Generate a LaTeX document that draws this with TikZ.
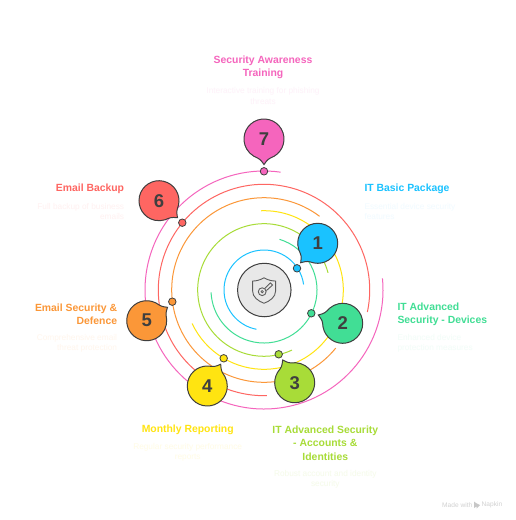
\documentclass[tikz,border=0pt]{standalone}
\usepackage{fontspec}
\setmainfont{Liberation Sans}
\usetikzlibrary{calc}
\definecolor{cblue}{HTML}{1AC2FF}
\definecolor{cgreen}{HTML}{41DE95}
\definecolor{clime}{HTML}{A8DC38}
\definecolor{cyellow}{HTML}{FFE411}
\definecolor{corange}{HTML}{FB9738}
\definecolor{cred}{HTML}{FE6662}
\definecolor{cpink}{HTML}{F565BD}
\definecolor{dark}{HTML}{3F3F3F}
\tikzset{
  ring/.style={line width=1pt},
  dot/.style={circle,draw=dark,line width=0.8pt,minimum size=7.5pt,inner sep=0pt},
  bubbleline/.style={draw=dark,line width=1pt},
  num/.style={font=\fontsize{18.5}{20}\selectfont\bfseries,text=dark,inner sep=0pt},
  ttl/.style={font=\fontsize{10.4}{13.3}\selectfont\bfseries,inner sep=0pt},
  dsc/.style={font=\fontsize{8.3}{10.3}\selectfont,inner sep=0pt},
}
% name, cx, cy, tipx, tipy, colour, number
\newcommand{\bubblemark}[7]{%
  \pgfmathsetmacro{\th}{atan2(#5-#3,#4-#2)}%
  \pgfmathsetmacro{\thA}{\th+30}\pgfmathsetmacro{\thB}{\th+330}%
  \pgfmathsetmacro{\thC}{\th-11}\pgfmathsetmacro{\thD}{\th+11}%
  \fill[#6] (#2,#3) circle (20pt);
  \path[bubbleline,fill=#6] ($(#2,#3)+(\thA:20pt)$) arc[start angle=\thA,end angle=\thB,radius=20pt]
    .. controls ($(#2,#3)+(\thC:20.5pt)$) .. (#4,#5)
    .. controls ($(#2,#3)+(\thD:20.5pt)$) .. cycle;
  \node[num] (#1) at (#2,#3) {#7};
}
\begin{document}
\begin{tikzpicture}[x=1pt,y=1pt]
\useasboundingbox (0,0) rectangle (515,-520);
\fill[white] (0,0) rectangle (515,-520);
\coordinate (c) at (264,-290);
% rings: radius, start, end, colour
\foreach \r/\s/\e/\col in {40/8/259/cblue,53/73/-177.5/cgreen,66.3/15/295/clime,79.3/92/-155/cyellow,92.3/53/321/corange,105.7/-12/271.5/cred,119/5.6/-278/cpink}{
  \draw[ring,\col] ($(c)+(\s:\r pt)$) arc[start angle=\s,end angle=\e,radius=\r pt];
}
% hub
\node[circle,draw=dark,line width=1pt,fill=black!9,minimum size=53.5pt,inner sep=0pt] (hub) at (264.3,-290) {};
\draw[dark!85,line width=0.9pt,line join=round] (264,-277.8) .. controls (259,-280.6) and (255.5,-281) .. (252.6,-281)
  -- (252.6,-291) .. controls (252.6,-297) and (258,-301) .. (264,-303.3)
  .. controls (270,-301) and (275.6,-297) .. (275.6,-291) -- (275.6,-281)
  .. controls (272.5,-281) and (269,-280.6) .. (264,-277.8) -- cycle;
\draw[dark!85,line width=0.9pt] (262.2,-291.7) circle (3.9pt);
\draw[dark!85,line width=0.7pt] (262.2,-291.7) circle (1.2pt);
\draw[dark!85,line width=0.9pt,line join=round] (264.6,-288.6) -- (270.4,-282.8) -- (272.6,-285) -- (266.4,-290.6);
% bubbles
\bubblemark{n7}{264}{-139}{264}{-164.5}{cpink}{7}
\bubblemark{n6}{159}{-200.7}{177.5}{-217.7}{cred}{6}
\bubblemark{n5}{146.7}{-320.7}{167.5}{-307.3}{corange}{5}
\bubblemark{n4}{207.3}{-386}{220.7}{-364.3}{cyellow}{4}
\bubblemark{n3}{294.7}{-382.7}{282.7}{-360}{clime}{3}
\bubblemark{n2}{342.7}{-323.3}{318.3}{-315}{cgreen}{2}
\bubblemark{n1}{317.7}{-243.3}{300.7}{-262.7}{cblue}{1}
% dots
\node[dot,fill=cblue] (d1) at (297,-268.3) {};
\node[dot,fill=cgreen] (d2) at (311.3,-313.3) {};
\node[dot,fill=clime] (d3) at (278.7,-354.3) {};
\node[dot,fill=cyellow] (d4) at (223.7,-358.3) {};
\node[dot,fill=corange] (d5) at (172.3,-301.7) {};
\node[dot,fill=cred] (d6) at (182.3,-222.7) {};
\node[dot,fill=cpink] (d7) at (264,-171.3) {};
% titles
\node[ttl,text=cpink,align=center] (t7) at (263,-67.2) {Security Awareness\\Training};
\node[dsc,text=cpink!9,align=center] (s7) at (263,-96) {Interactive training for phishing\\threats};
\node[ttl,text=cred,anchor=east,align=right] (t6) at (124.3,-189) {Email Backup};
\node[dsc,text=cred!9,anchor=east,align=right] (s6) at (124.3,-211.6) {Full backup of business\\emails};
\node[ttl,text=corange,anchor=east,align=right] (t5) at (117.3,-314.6) {Email Security \&\\Defence};
\node[dsc,text=corange!9,anchor=east,align=right] (s5) at (117.3,-343.4) {Comprehensive email\\threat protection};
\node[ttl,text=cblue,anchor=west,align=left] (t1) at (364.3,-189) {IT Basic Package};
\node[dsc,text=cblue!6,anchor=west,align=left] (s1) at (364.3,-211.6) {Essential device security\\features};
\node[ttl,text=cgreen,anchor=west,align=left] (t2) at (397.3,-314.6) {IT Advanced\\Security - Devices};
\node[dsc,text=cgreen!7,anchor=west,align=left] (s2) at (397.3,-343.4) {Enhanced device\\protection measures};
\node[ttl,text=cyellow,align=center] (t4) at (187.7,-429.8) {Monthly Reporting};
\node[dsc,text=cyellow!11,align=center] (s4) at (187.7,-452.6) {Regular security performance\\reports};
\node[ttl,text=clime,align=center] (t3) at (325.3,-443.2) {IT Advanced Security\\- Accounts \&\\Identities};
\node[dsc,text=clime!11,align=center] (s3) at (325.3,-479) {Robust account and identity\\security};
% credit
\node[font=\fontsize{6.6}{8}\selectfont,text=black!18,inner sep=0pt,anchor=west] (m1) at (442,-505) {Made with};
\fill[black!22] (474,-501.5) -- (474,-508) -- (476.5,-506.5) -- (476.5,-508.5) -- (480,-505) -- (476,-503) -- cycle;
\node[font=\fontsize{6.6}{8}\selectfont,text=black!18,inner sep=0pt,anchor=west] (m2) at (481.5,-505) {Napkin};
\end{tikzpicture}
\end{document}
